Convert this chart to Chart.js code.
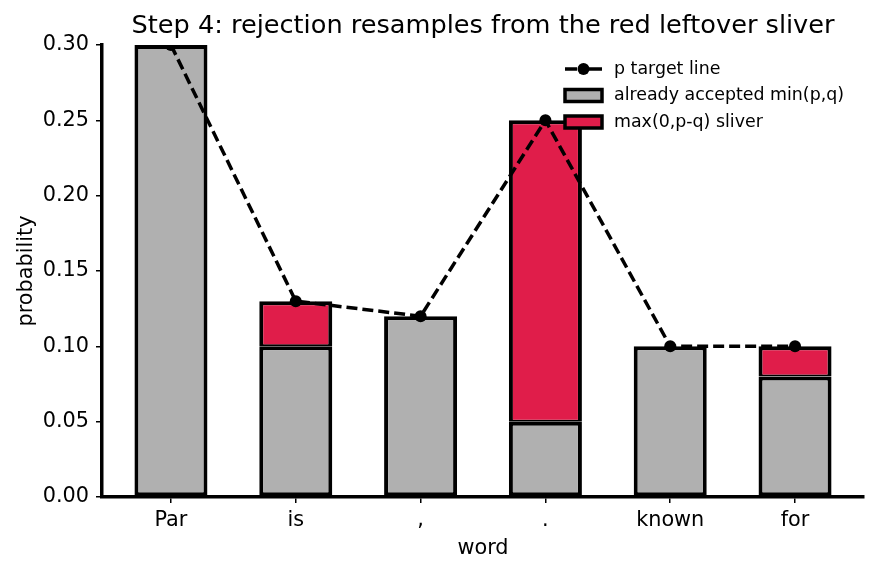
<!DOCTYPE html>
<html>
<head>
<meta charset="utf-8">
<script src="https://cdn.jsdelivr.net/npm/chart.js@4/dist/chart.umd.min.js"></script>
<style>
  body { margin: 0; background: #fff; }
  #wrap { width: 876px; height: 573px; }
</style>
</head>
<body>
<div id="wrap"><canvas id="step4" width="876" height="573"></canvas></div>
<script>
// data
const words = ['Par', 'is', ',', '.', 'known', 'for'];
const pTarget = [0.30, 0.13, 0.12, 0.25, 0.10, 0.10];
const accepted = [0.30, 0.10, 0.12, 0.05, 0.10, 0.08];
const sliver = [0, 0.03, 0, 0.20, 0, 0.02];
const yTicks = [0, 0.05, 0.10, 0.15, 0.20, 0.25, 0.30];

const GRAY = '#b0b0b0';
const RED = '#e01d4a';

Chart.defaults.font.family = 'DejaVu Sans';
Chart.defaults.color = '#000';

const titleAndLegend = {
    id: 'titleAndLegend',
    afterDraw(chart) {
        const ctx = chart.ctx;
        const area = chart.chartArea;
        ctx.save();
        ctx.fillStyle = '#000';
        ctx.font = '25.6px "DejaVu Sans"';
        ctx.textAlign = 'center';
        ctx.textBaseline = 'alphabetic';
        ctx.fillText('Step 4: rejection resamples from the red leftover sliver', (area.left + area.right) / 2, 33);

        // legend
        const x0 = 565, x1 = 602, tx = 614;
        const rows = [69, 95.5, 122];
        ctx.strokeStyle = '#000';
        ctx.lineWidth = 3.5;
        ctx.beginPath();
        ctx.moveTo(x0, rows[0]); ctx.lineTo(x0 + 12, rows[0]);
        ctx.moveTo(x1 - 13, rows[0]); ctx.lineTo(x1, rows[0]);
        ctx.stroke();
        ctx.beginPath();
        ctx.arc((x0 + x1) / 2, rows[0], 6, 0, Math.PI * 2);
        ctx.fill();

        [[GRAY, rows[1]], [RED, rows[2]]].forEach(([c, y]) => {
            ctx.fillStyle = c;
            ctx.fillRect(x0, y - 6, x1 - x0, 12);
            ctx.lineWidth = 3.5;
            ctx.strokeRect(x0, y - 6, x1 - x0, 12);
        });

        ctx.fillStyle = '#000';
        ctx.font = '17.4px "DejaVu Sans"';
        ctx.textAlign = 'left';
        ctx.textBaseline = 'middle';
        ctx.fillText('p target line', tx, rows[0]);
        ctx.fillText('already accepted min(p,q)', tx, rows[1]);
        ctx.fillText('max(0,p-q) sliver', tx, rows[2]);
        ctx.restore();
    }
};

const chart = new Chart(document.getElementById('step4').getContext('2d'), {
    type: 'bar',
    data: {
        datasets: [{
            type: 'line',
            label: 'p target line',
            data: pTarget.map((v, i) => ({x: i, y: v})),
            borderColor: '#000',
            borderWidth: 3.5,
            borderDash: [11, 5],
            pointRadius: 6,
            pointBackgroundColor: '#000',
            pointBorderWidth: 0,
            order: 0,
            stack: 'p'
        }, {
            label: 'already accepted min(p,q)',
            data: accepted.map((v, i) => ({x: i, y: v})),
            backgroundColor: GRAY,
            borderColor: '#000',
            borderWidth: 4,
            borderSkipped: false,
            order: 1,
            stack: 'bars'
        }, {
            label: 'max(0,p-q) sliver',
            data: sliver.map((v, i) => ({x: i, y: v > 0 ? v : null})),
            backgroundColor: RED,
            borderColor: '#000',
            borderWidth: {top: 4, left: 4, right: 4, bottom: 2},
            borderSkipped: false,
            order: 1,
            stack: 'bars'
        }]
    },
    options: {
        responsive: false,
        animation: false,
        barPercentage: 0.585,
        categoryPercentage: 1,
        layout: {
            padding: {left: 0, right: 12, top: 45, bottom: 0}
        },
        scales: {
            x: {
                type: 'linear',
                stacked: true,
                offset: false,
                min: -0.5525,
                max: 5.5525,
                afterBuildTicks: (scale) => {
                    scale.ticks = words.map((w, i) => ({value: i}));
                },
                afterFit: (scale) => { scale.height = 76; },
                ticks: {
                    autoSkip: false,
                    maxRotation: 0,
                    padding: 5,
                    font: {size: 20.8},
                    callback: (v) => words[v]
                },
                grid: {
                    offset: false,
                    drawOnChartArea: false,
                    drawTicks: true,
                    tickLength: 6,
                    color: '#000',
                    lineWidth: 1.5
                },
                border: {display: true, color: '#000', width: 3.5},
                title: {
                    display: true,
                    text: 'word',
                    font: {size: 20.8},
                    padding: {top: 0, bottom: 12}
                }
            },
            y: {
                stacked: true,
                min: 0,
                max: 0.30,
                afterBuildTicks: (scale) => {
                    scale.ticks = yTicks.map(v => ({value: v}));
                },
                afterFit: (scale) => { scale.width = 102; },
                ticks: {
                    padding: 7,
                    font: {size: 20.8},
                    callback: (v) => v.toFixed(2)
                },
                grid: {
                    drawOnChartArea: false,
                    drawTicks: true,
                    tickLength: 6,
                    color: '#000',
                    lineWidth: 1.5
                },
                border: {display: true, color: '#000', width: 3.5},
                title: {
                    display: true,
                    text: 'probability',
                    font: {size: 20.8},
                    padding: {top: 14, bottom: 0}
                }
            }
        },
        plugins: {
            legend: {display: false},
            title: {display: false},
            tooltip: {enabled: false}
        }
    },
    plugins: [titleAndLegend]
});
</script>
</body>
</html>
